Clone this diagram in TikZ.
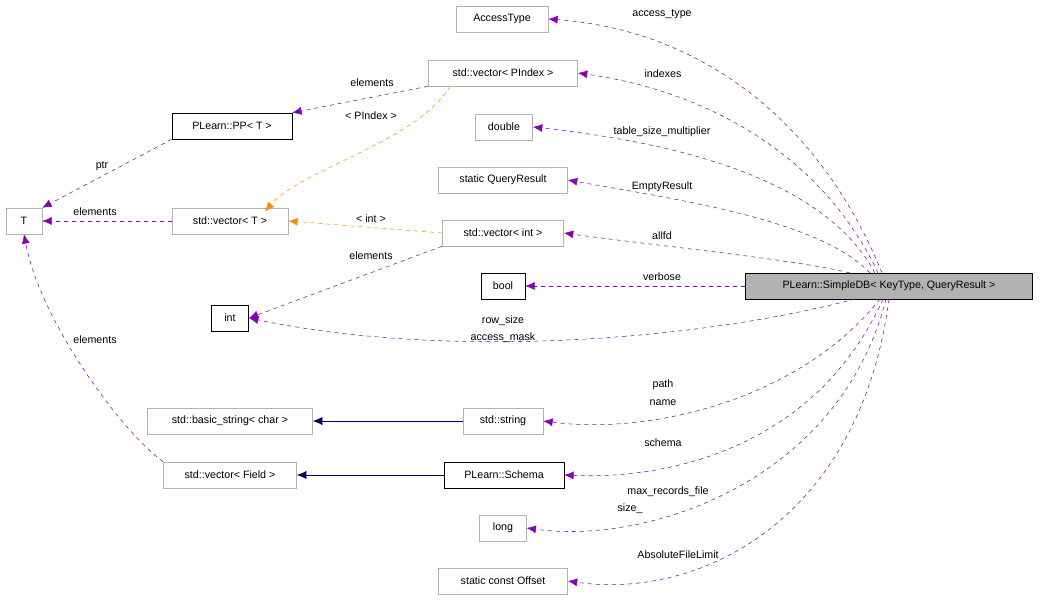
\documentclass[tikz,border=0pt]{standalone}
\usepackage{fontspec}
\setmainfont{Liberation Sans}
\usetikzlibrary{arrows.meta}
\begin{document}
\begin{tikzpicture}[x=0.75pt,y=-0.75pt,
 every node/.style={font=\fontsize{8}{9.5}\selectfont},
 box/.style={draw=gray!60,minimum height=19.5pt,inner xsep=4pt},
 bbox/.style={draw=black,minimum height=19.5pt,inner xsep=4pt},
 mem/.style={draw=violet!70!magenta!80!blue,dashed,-{Latex[length=7pt,width=6pt]}},
 tmpl/.style={draw=orange!90!yellow,dashed,-{Latex[length=7pt,width=6pt]}},
 inh/.style={draw=blue!40!black,-{Latex[length=7pt,width=6pt]}},
 lab/.style={inner sep=1pt}]
\useasboundingbox (0,0) rectangle (1040,603);
\node[box,minimum width=69pt] (AT) at (502,19) {AccessType};
\node[box,minimum width=112pt] (VP) at (503,73) {std::vector< PIndex >};
\node[box,minimum width=43pt] (D) at (504,127) {double};
\node[box,minimum width=97pt] (QR) at (503,180) {static QueryResult};
\node[box,minimum width=91pt] (VI) at (503,233) {std::vector< int >};
\node[bbox,minimum width=33pt] (B) at (503,286) {bool};
\node[draw=black,fill=gray!60,minimum height=19.5pt,minimum width=215pt] (S) at (889,286) {PLearn::SimpleDB< KeyType, QueryResult >};
\node[bbox,minimum width=28pt] (I) at (230,318) {int};
\node[box,minimum width=27pt] (T) at (24,221) {T};
\node[bbox,minimum width=90pt] (PP) at (232,126) {PLearn::PP< T >};
\node[box,minimum width=87pt] (VT) at (230,221) {std::vector< T >};
\node[box,minimum width=124pt] (BS) at (230,421) {std::basic\_string< char >};
\node[box,minimum width=60pt] (SS) at (503,421) {std::string};
\node[box,minimum width=100pt] (VF) at (230,475) {std::vector< Field >};
\node[bbox,minimum width=90pt] (SC) at (504,475) {PLearn::Schema};
\node[box,minimum width=35pt] (L) at (503,528) {long};
\node[box,minimum width=97pt] (O) at (503,581) {static const Offset};
% members
\draw[mem] (882,273) .. controls (820,120) and (700,30) .. (AT.east);
\node[lab] at (662,14) {access\_type};
\draw[mem] (878,273) .. controls (820,150) and (700,90) .. (VP.east);
\node[lab] at (663,74) {indexes};
\draw[mem] (875,273) .. controls (820,170) and (650,140) .. (D.east);
\node[lab] at (662,132) {table\_size\_multiplier};
\draw[mem] (870,273) .. controls (820,220) and (680,200) .. (QR.east);
\node[lab] at (662,187) {EmptyResult};
\draw[mem] (850,273) .. controls (800,260) and (650,245) .. (VI.east);
\node[lab] at (662,236) {allfd};
\draw[mem] (S.west) -- (B.east);
\node[lab] at (662,277) {verbose};
\draw[mem] (855,299) .. controls (700,340) and (450,360) .. (I.east);
\node[lab] at (503,321) {row\_size};
\node[lab] at (503,338) {access\_mask};
\draw[mem] (880,299) .. controls (800,400) and (650,435) .. (SS.east);
\node[lab] at (663,385) {path};
\node[lab] at (663,403) {name};
\draw[mem] (883,299) .. controls (820,440) and (680,480) .. (SC.east);
\node[lab] at (663,443) {schema};
\draw[mem] (886,299) .. controls (840,480) and (650,545) .. (L.east);
\node[lab] at (668,492) {max\_records\_file};
\node[lab] at (630,509) {size\_};
\draw[mem] (889,299) .. controls (860,520) and (700,600) .. (O.east);
\node[lab] at (678,555) {AbsoluteFileLimit};
% left side
\draw[mem] (VP.south west) -- (PP.north east);
\node[lab] at (372,83) {elements};
\draw[mem] (PP.south west) -- (T.north east);
\node[lab] at (102,166) {ptr};
\draw[mem] (VT.west) -- (T.east);
\node[lab] at (95,212) {elements};
\draw[mem] (VI.south west) -- (I.east);
\node[lab] at (371,256) {elements};
\draw[mem] (VF.north west) .. controls (120,430) and (40,320) .. (T.south);
\node[lab] at (95,340) {elements};
\draw[tmpl] (450,86) .. controls (420,140) and (300,170) .. (265,211.5);
\node[lab] at (371,116) {< PIndex >};
\draw[tmpl] (VI.west) -- (VT.east);
\node[lab] at (371,219) {< int >};
\draw[inh] (SS.west) -- (BS.east);
\draw[inh] (SC.west) -- (VF.east);
\end{tikzpicture}
\end{document}
